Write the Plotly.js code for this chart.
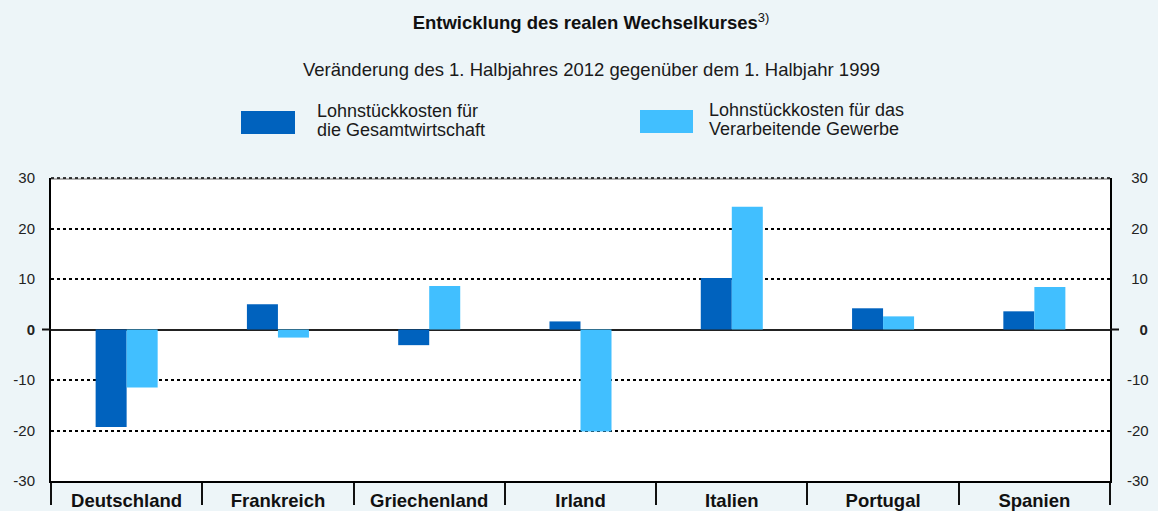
<!DOCTYPE html>
<html>
<head>
<meta charset="utf-8">
<script src="https://cdn.plot.ly/plotly-3.0.1.min.js"></script>
<style>
  html, body { margin: 0; padding: 0; background: #EDF5F8; }
  #chart { width: 1158px; height: 511px; }
</style>
</head>
<body>
<div id="chart"></div>
<script>
// ---- data ----
const countries = ['Deutschland', 'Frankreich', 'Griechenland', 'Irland', 'Italien', 'Portugal', 'Spanien'];
const gesamtwirtschaft = [-19.3, 5.0, -3.1, 1.6, 10.2, 4.2, 3.6];
const verarbeitendesGewerbe = [-11.5, -1.6, 8.6, -20.2, 24.3, 2.6, 8.4];
const seriesNames = ['Lohnstückkosten für<br>die Gesamtwirtschaft', 'Lohnstückkosten für das<br>Verarbeitende Gewerbe'];
const yTickVals = [-30, -20, -10, 0, 10, 20, 30];
const yTickLeft = ['-30', '-20', '-10', '<b>0</b>', '10', '20', '30'];
const yTickRight = ['-30', '-20', '-10', '<b>\u00A0\u00A0\u00A00</b>', '\u00A010', '\u00A020', '\u00A030'];
const titleText = '<b>Entwicklung des realen Wechselkurses</b><sup>3)</sup>';
const subtitleText = 'Veränderung des 1. Halbjahres 2012 gegenüber dem 1. Halbjahr 1999';

// ---- styles ----
const FONT = 'Arial, "Liberation Sans", sans-serif';
const colors = ['#0062BE', '#41BFFF'];
const W = 1158, H = 511;
const M = { l: 51, r: 48, t: 178, b: 30 };
const PW = W - M.l - M.r, PH = H - M.t - M.b;
const px = x => (x - M.l) / PW;
const py = y => (H - M.b - y) / PH;

const traces = [
  { type: 'bar', x: countries, y: gesamtwirtschaft, name: seriesNames[0],
    marker: { color: colors[0], line: { width: 0 } }, hoverinfo: 'x+y' },
  { type: 'bar', x: countries, y: verarbeitendesGewerbe, name: seriesNames[1],
    marker: { color: colors[1], line: { width: 0 } }, hoverinfo: 'x+y' },
  // invisible helper so the right-hand value axis is drawn
  { type: 'scatter', x: countries, y: gesamtwirtschaft, yaxis: 'y2', mode: 'markers',
    marker: { opacity: 0, size: 1 }, hoverinfo: 'skip', showlegend: false }
];

const legendBoxes = [
  { x0: 241, x1: 295, y0: 111, y1: 134, tx: 315, ty: [111, 130] },
  { x0: 640, x1: 693, y0: 110, y1: 133, tx: 707, ty: [110, 129] }
];

const shapes = [
  // top border of plot area
  { type: 'line', xref: 'paper', yref: 'paper', x0: 0, x1: 1, y0: 1 - 1 / PH, y1: 1 - 1 / PH,
    line: { color: '#9a9a9a', width: 1.5 } },
  { type: 'line', xref: 'paper', yref: 'paper', x0: 0, x1: 1, y0: 1, y1: 1,
    line: { color: '#000', width: 1.5, dash: 'dot' } },
  // small ticks at zero, both sides
  { type: 'line', xref: 'paper', yref: 'y', x0: -9 / PW, x1: 0, y0: 0, y1: 0,
    line: { color: '#111', width: 2 } },
  { type: 'line', xref: 'paper', yref: 'y', x0: 1, x1: 1 + 9 / PW, y0: 0, y1: 0,
    line: { color: '#111', width: 2 } }
];
const annotations = [
  { text: subtitleText, xref: 'paper', yref: 'paper', x: px(591), y: py(69),
    xanchor: 'center', yanchor: 'middle', showarrow: false,
    font: { family: FONT, size: 18.5, color: '#1a1a1a' } }
];
legendBoxes.forEach((b, i) => {
  shapes.push({ type: 'rect', xref: 'paper', yref: 'paper',
    x0: px(b.x0), x1: px(b.x1), y0: py(b.y1), y1: py(b.y0),
    fillcolor: colors[i], line: { width: 0 } });
  seriesNames[i].split('<br>').forEach((line, j) => {
    annotations.push({ text: line, xref: 'paper', yref: 'paper',
      x: px(b.tx), y: py(b.ty[j]), xanchor: 'left', yanchor: 'middle', align: 'left',
      showarrow: false, font: { family: FONT, size: 18, color: '#1a1a1a' } });
  });
});

const layout = {
  width: W, height: H,
  margin: M,
  paper_bgcolor: '#EDF5F8',
  plot_bgcolor: '#FFFFFF',
  showlegend: false,
  barmode: 'group',
  bargap: 0.59,
  bargroupgap: 0,
  font: { family: FONT, color: '#1a1a1a' },
  title: { text: titleText, xref: 'paper', x: px(591), xanchor: 'center',
    yref: 'container', y: 1 - 23 / H, yanchor: 'middle',
    font: { family: FONT, size: 18.5, color: '#111' } },
  xaxis: {
    type: 'category', range: [-0.5, 6.5],
    showline: true, linecolor: '#000', linewidth: 2,
    ticks: 'outside', tickson: 'boundaries', ticklen: 22, tickwidth: 2, tickcolor: '#111',
    ticklabelstandoff: 2,
    tickfont: { family: FONT, size: 18.5, color: '#111', weight: 'bold' },
    showgrid: false, zeroline: false, fixedrange: true
  },
  yaxis: {
    range: [-30, 30], tickmode: 'array', tickvals: yTickVals, ticktext: yTickLeft,
    showgrid: true, griddash: 'dot', gridcolor: '#000', gridwidth: 2,
    zeroline: true, zerolinecolor: '#222', zerolinewidth: 2,
    showline: true, linecolor: '#000', linewidth: 2,
    ticks: 'outside', ticklen: 11, tickcolor: 'rgba(0,0,0,0)',
    tickfont: { family: FONT, size: 15, color: '#222' }, fixedrange: true
  },
  yaxis2: {
    overlaying: 'y', side: 'right', anchor: 'x',
    range: [-30, 30], tickmode: 'array', tickvals: yTickVals, ticktext: yTickRight,
    showgrid: false, zeroline: false,
    showline: true, linecolor: '#000', linewidth: 2,
    ticks: 'outside', ticklen: 12, tickcolor: 'rgba(0,0,0,0)',
    tickfont: { family: FONT, size: 15, color: '#222' }, fixedrange: true
  },
  shapes: shapes,
  annotations: annotations
};

Plotly.newPlot('chart', traces, layout, { displayModeBar: false, staticPlot: true });
</script>
</body>
</html>
